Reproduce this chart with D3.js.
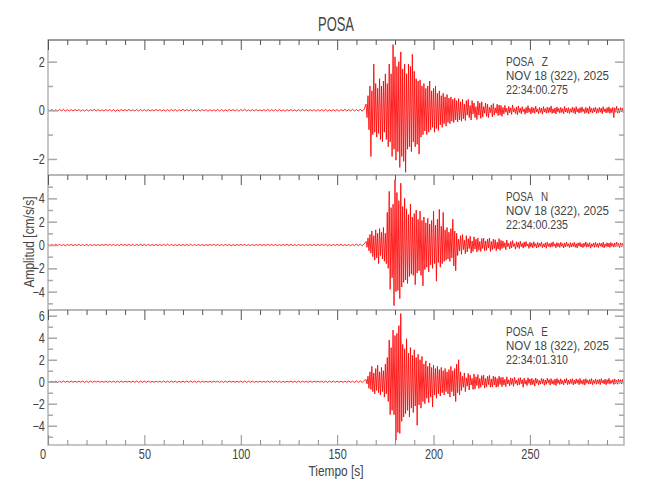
<!DOCTYPE html>
<html>
<head>
<meta charset="utf-8">
<script src="https://cdn.jsdelivr.net/npm/d3@7"></script>
<style>
  body { margin: 0; background: #fff; }
  svg text { font-family: "Liberation Sans", Arial, sans-serif; fill: #444; }
</style>
</head>
<body>
<div id="chart"></div>
<script>
const station = 'POSA'
const components = ['Z', 'N', 'E']
const dateLabel = 'NOV 18 (322), 2025'
const startTimes = ['22:34:00.275', '22:34:00.235', '22:34:01.310']

const timeDomain = [0, 298.8]
const xMajorTicks = [0, 50, 100, 150, 200, 250]
const xMinorTicks = [10, 20, 30, 40, 60, 70, 80, 90, 110, 120, 130, 140, 160, 170, 180, 190,
  210, 220, 230, 240, 260, 270, 280, 290]

const yDomains = [[-2.66, 2.89], [-5.57, 6.0], [-5.75, 6.52]]
const yMajorTicks = [[-2, 0, 2], [-4, -2, 0, 2, 4], [-4, -2, 0, 2, 4, 6]]
const yMinorTicks = [[-1, 1], [-5, -3, -1, 1, 3, 5], [-5, -3, -1, 1, 3, 5]]

// ruido previo, una muestra por segundo desde t = 0
const quietStep = 1
// sismo: máximo / mínimo de cada segundo desde t = 165
const quakeStart = 165

const zQuiet = [
  0.03, -0.02, 0.03, -0.03, 0.02, -0.03, 0.03, -0.02, 0.04, -0.03,
  0.02, -0.03, 0.03, -0.03, 0.03, -0.02, 0.03, -0.04, 0.02, -0.03,
  0.03, -0.03, 0.02, -0.02, 0.04, -0.03, 0.03, -0.03, 0.02, -0.03,
  0.03, -0.02, 0.03, -0.03, 0.03, -0.04, 0.02, -0.03, 0.03, -0.02,
  0.03, -0.03, 0.04, -0.03, 0.02, -0.03, 0.03, -0.03, 0.03, -0.02,
  0.03, -0.03, 0.03, -0.03, 0.02, -0.03, 0.04, -0.02, 0.03, -0.03,
  0.02, -0.03, 0.03, -0.03, 0.03, -0.02, 0.03, -0.04, 0.03, -0.03,
  0.04, -0.03, 0.03, -0.02, 0.03, -0.03, 0.02, -0.03, 0.03, -0.03,
  0.03, -0.02, 0.03, -0.04, 0.03, -0.03, 0.02, -0.03, 0.04, -0.03,
  0.03, -0.03, 0.02, -0.03, 0.03, -0.02, 0.03, -0.03, 0.03, -0.04,
  0.03, -0.02, 0.04, -0.03, 0.02, -0.03, 0.03, -0.03, 0.03, -0.02,
  0.02, -0.03, 0.03, -0.03, 0.04, -0.03, 0.03, -0.02, 0.03, -0.03,
  0.03, -0.03, 0.02, -0.04, 0.03, -0.03, 0.03, -0.03, 0.02, -0.03,
  0.03, -0.03, 0.04, -0.02, 0.03, -0.03, 0.03, -0.03, 0.03, -0.04,
  0.03, -0.03, 0.03, -0.03, 0.04, -0.03, 0.02, -0.03, 0.03, -0.03,
  0.03, -0.04, 0.03, -0.03, 0.04, -0.03, 0.03, -0.03, 0.04, -0.03,
  0.03, -0.03, 0.05, -0.04, 0.05
]
const zHi = [
  0.25, 0.6, 1.0, 0.8, 1.9, 1.1, 0.9, 1.3, 1.0, 1.2,
  1.5, 1.1, 1.9, 1.5, 2.7, 2.2, 1.8, 2.0, 2.4, 1.7,
  1.9, 1.5, 1.9, 1.8, 2.3, 1.6, 1.3, 1.2, 1.25, 1.0,
  1.1, 0.9, 1.0, 1.2, 0.8, 0.9, 1.0, 0.7, 0.8, 0.6,
  0.7, 0.55, 0.65, 0.5, 0.55, 0.45, 0.5, 0.4, 0.48, 0.35,
  0.45, 0.25, 0.4, 0.45, 0.2, 0.4, 0.3, 0.15, 0.38, 0.3,
  0.35, 0.15, 0.3, 0.25, 0.12, 0.22, 0.28, 0.1, 0.25, 0.22,
  0.2,
  0.12, 0.2, 0.08, 0.16, 0.1, 0.22, 0.07, 0.14, 0.18, 0.09,
  0.15, 0.06, 0.12, 0.19, 0.08, 0.13, 0.1, 0.17, 0.06, 0.12,
  0.09, 0.15, 0.07, 0.13, 0.11, 0.18, 0.06, 0.1, 0.14, 0.08,
  0.12, 0.07, 0.16, 0.09, 0.11, 0.06, 0.13, 0.1, 0.15, 0.07,
  0.11, 0.14, 0.06, 0.12, 0.09, 0.16, 0.08, 0.1, 0.13, 0.07,
  0.12, 0.09, 0.15, 0.06, 0.11, 0.14, 0.08, 0.12, 0.1, 0.16,
  0.07, 0.11, 0.09
]
const zLo = [
  -0.3, -0.8, -1.9, -1.0, -0.9, -1.1, -0.95, -1.2, -1.3, -0.9,
  -1.2, -1.5, -1.3, -1.9, -1.6, -2.05, -1.7, -2.35, -1.9, -2.1,
  -2.55, -1.6, -1.5, -1.7, -1.3, -1.5, -1.4, -1.8, -1.1, -1.0,
  -0.85, -1.0, -0.9, -0.8, -0.7, -0.9, -0.75, -0.83, -0.6, -0.7,
  -0.55, -0.65, -0.5, -0.55, -0.45, -0.5, -0.4, -0.48, -0.4, -0.45,
  -0.35, -0.42, -0.2, -0.3, -0.4, -0.15, -0.3, -0.38, -0.2, -0.33,
  -0.28, -0.12, -0.25, -0.3, -0.1, -0.27, -0.2, -0.12, -0.22, -0.2,
  -0.25,
  -0.15, -0.08, -0.2, -0.1, -0.17, -0.07, -0.13, -0.19, -0.09, -0.14,
  -0.06, -0.16, -0.11, -0.08, -0.15, -0.1, -0.12, -0.07, -0.14, -0.09,
  -0.16, -0.07, -0.12, -0.1, -0.08, -0.13, -0.11, -0.15, -0.06, -0.12,
  -0.09, -0.14, -0.07, -0.11, -0.13, -0.08, -0.1, -0.15, -0.07, -0.12,
  -0.09, -0.06, -0.13, -0.1, -0.14, -0.08, -0.11, -0.07, -0.12, -0.1,
  -0.08, -0.14, -0.06, -0.11, -0.09, -0.13, -0.1, -0.3, -0.08, -0.12,
  -0.1, -0.07, -0.11
]

const nQuiet = [
  0.05, -0.05, 0.04, -0.05, 0.06, -0.04, 0.05, -0.05, 0.04, -0.06,
  0.05, -0.04, 0.05, -0.05, 0.04, -0.05, 0.06, -0.05, 0.05, -0.04,
  0.05, -0.05, 0.04, -0.06, 0.05, -0.05, 0.04, -0.05, 0.05, -0.04,
  0.06, -0.05, 0.05, -0.04, 0.05, -0.05, 0.04, -0.05, 0.06, -0.04,
  0.05, -0.05, 0.05, -0.05, 0.07, -0.08, 0.09, -0.08, 0.1, -0.09,
  0.1, -0.09, 0.08, -0.07, 0.06, -0.06, 0.05, -0.05, 0.04, -0.05,
  0.05, -0.04, 0.06, -0.05, 0.05, -0.05, 0.04, -0.05, 0.05, -0.06,
  0.05, -0.04, 0.05, -0.05, 0.06, -0.05, 0.04, -0.04, 0.05, -0.05,
  0.05, -0.06, 0.04, -0.05, 0.05, -0.04, 0.06, -0.05, 0.05, -0.05,
  0.04, -0.05, 0.05, -0.04, 0.05, -0.06, 0.04, -0.05, 0.05, -0.05,
  0.06, -0.04, 0.05, -0.05, 0.04, -0.05, 0.05, -0.06, 0.05, -0.04,
  0.05, -0.05, 0.04, -0.05, 0.06, -0.04, 0.05, -0.05, 0.05, -0.06,
  0.04, -0.05, 0.05, -0.04, 0.05, -0.05, 0.06, -0.05, 0.04, -0.05,
  0.05, -0.06, 0.05, -0.05, 0.04, -0.04, 0.05, -0.05, 0.05, -0.05,
  0.06, -0.05, 0.05, -0.04, 0.05, -0.06, 0.04, -0.05, 0.05, -0.05,
  0.05, -0.04, 0.06, -0.05, 0.04, -0.05, 0.05, -0.06, 0.05, -0.05,
  0.07, -0.06, 0.08, -0.07, 0.1
]
const nHi = [
  0.3, 0.6, 0.9, 1.2, 0.8, 1.3, 1.0, 1.4, 1.1, 1.5,
  1.0, 2.8, 4.6, 3.2, 3.5, 5.6, 4.5, 3.8, 5.3, 3.3,
  4.0, 3.1, 2.6, 3.5, 2.4, 2.7, 3.0, 2.2, 2.9, 2.1,
  2.4, 1.9, 2.3, 1.8, 2.1, 2.9, 1.7, 2.2, 3.05, 1.6,
  2.8, 1.3, 1.5, 1.1, 1.4, 2.2, 1.2, 1.0, 0.5, 0.8,
  0.9, 0.4, 0.8, 0.55, 0.75, 0.35, 0.7, 0.5, 0.6, 0.3,
  0.55, 0.6, 0.35, 0.5, 0.6, 0.3, 0.5, 0.45, 0.25, 0.55,
  0.4,
  0.35, 0.2, 0.42, 0.15, 0.3, 0.38, 0.12, 0.28, 0.22, 0.34,
  0.14, 0.26, 0.3, 0.1, 0.24, 0.18, 0.28, 0.12, 0.22, 0.16,
  0.26, 0.1, 0.2, 0.24, 0.13, 0.19, 0.27, 0.11, 0.21, 0.16,
  0.23, 0.12, 0.18, 0.25, 0.1, 0.2, 0.15, 0.24, 0.12, 0.19,
  0.22, 0.11, 0.17, 0.26, 0.13, 0.2, 0.1, 0.18, 0.23, 0.12,
  0.19, 0.15, 0.24, 0.1, 0.2, 0.16, 0.22, 0.12, 0.18, 0.25,
  0.13, 0.19, 0.15
]
const nLo = [
  -0.2, -0.5, -0.7, -1.0, -1.3, -1.1, -1.6, -0.9, -1.2, -1.4,
  -1.6, -2.0, -3.8, -2.8, -5.2, -4.0, -3.9, -4.6, -3.6, -3.2,
  -3.0, -3.3, -2.7, -2.5, -2.6, -3.4, -2.4, -2.2, -2.6, -3.5,
  -2.1, -1.9, -2.3, -1.7, -2.0, -1.6, -3.1, -1.5, -1.9, -1.6,
  -1.4, -1.3, -1.2, -1.4, -1.1, -1.8, -2.2, -0.9, -0.5, -0.8,
  -0.4, -0.75, -0.6, -0.3, -0.7, -0.55, -0.35, -0.6, -0.45, -0.55,
  -0.3, -0.5, -0.45, -0.25, -0.55, -0.4, -0.3, -0.5, -0.35, -0.45,
  -0.3,
  -0.22, -0.4, -0.15, -0.33, -0.25, -0.12, -0.36, -0.2, -0.3, -0.14,
  -0.27, -0.18, -0.1, -0.29, -0.16, -0.24, -0.12, -0.26, -0.19, -0.11,
  -0.23, -0.17, -0.28, -0.12, -0.2, -0.15, -0.1, -0.24, -0.14, -0.21,
  -0.12, -0.26, -0.16, -0.11, -0.22, -0.18, -0.13, -0.2, -0.25, -0.1,
  -0.17, -0.23, -0.12, -0.19, -0.15, -0.27, -0.11, -0.2, -0.14, -0.22,
  -0.1, -0.18, -0.24, -0.13, -0.16, -0.21, -0.11, -0.19, -0.15, -0.12,
  -0.22, -0.14, -0.18
]

const eQuiet = [
  0.05, -0.05, 0.04, -0.05, 0.05, -0.06, 0.04, -0.05, 0.05, -0.04,
  0.05, -0.05, 0.06, -0.05, 0.04, -0.05, 0.05, -0.04, 0.05, -0.06,
  0.04, -0.05, 0.05, -0.05, 0.05, -0.04, 0.06, -0.05, 0.04, -0.05,
  0.05, -0.06, 0.05, -0.04, 0.05, -0.05, 0.04, -0.05, 0.06, -0.05,
  0.05, -0.04, 0.05, -0.05, 0.04, -0.05, 0.06, -0.06, 0.05, -0.04,
  0.05, -0.05, 0.05, -0.05, 0.04, -0.06, 0.05, -0.04, 0.05, -0.05,
  0.06, -0.05, 0.04, -0.05, 0.05, -0.04, 0.05, -0.06, 0.04, -0.05,
  0.05, -0.05, 0.05, -0.04, 0.06, -0.05, 0.04, -0.05, 0.05, -0.06,
  0.05, -0.04, 0.04, -0.05, 0.05, -0.05, 0.06, -0.04, 0.05, -0.05,
  0.04, -0.06, 0.05, -0.05, 0.05, -0.04, 0.05, -0.05, 0.04, -0.05,
  0.06, -0.05, 0.05, -0.05, 0.04, -0.04, 0.05, -0.06, 0.05, -0.05,
  0.05, -0.04, 0.04, -0.05, 0.06, -0.05, 0.05, -0.04, 0.05, -0.05,
  0.04, -0.06, 0.05, -0.05, 0.05, -0.04, 0.06, -0.05, 0.04, -0.05,
  0.05, -0.05, 0.05, -0.04, 0.04, -0.05, 0.06, -0.06, 0.05, -0.04,
  0.05, -0.05, 0.04, -0.05, 0.05, -0.06, 0.05, -0.04, 0.06, -0.05,
  0.05, -0.05, 0.05, -0.06, 0.04, -0.05, 0.06, -0.05, 0.05, -0.07,
  0.08, -0.07, 0.09, -0.08, 0.11
]
const eHi = [
  0.2, 0.5, 0.9, 1.4, 0.8, 1.2, 1.5, 0.9, 1.3, 1.0,
  1.6, 2.2, 3.8, 3.1, 4.7, 4.2, 4.4, 5.1, 6.2, 3.4,
  3.0, 3.9, 2.6, 3.1, 2.4, 2.9, 2.2, 2.5, 2.0, 2.3,
  1.6, 1.9, 1.4, 1.7, 1.3, 1.5, 1.2, 1.4, 1.1, 1.3,
  1.0, 1.2, 0.9, 1.1, 1.4, 1.0, 1.2, 1.6, 2.0, 0.9,
  0.5, 0.8, 0.35, 0.75, 0.6, 0.3, 0.7, 0.45, 0.65, 0.3,
  0.55, 0.6, 0.3, 0.5, 0.58, 0.25, 0.5, 0.45, 0.3, 0.5,
  0.4,
  0.4, 0.22, 0.45, 0.18, 0.35, 0.28, 0.42, 0.15, 0.3, 0.38,
  0.2, 0.33, 0.14, 0.36, 0.25, 0.3, 0.18, 0.34, 0.22, 0.12,
  0.3, 0.26, 0.16, 0.32, 0.2, 0.28, 0.13, 0.25, 0.3, 0.17,
  0.27, 0.12, 0.24, 0.3, 0.15, 0.22, 0.28, 0.14, 0.26, 0.19,
  0.3, 0.13, 0.23, 0.27, 0.16, 0.21, 0.29, 0.12, 0.25, 0.18,
  0.22, 0.28, 0.14, 0.24, 0.19, 0.3, 0.12, 0.2, 0.26, 0.15,
  0.23, 0.18, 0.21
]
const eLo = [
  -0.2, -0.6, -0.7, -0.9, -1.1, -0.8, -1.0, -1.2, -0.9, -1.4,
  -1.1, -1.8, -3.0, -2.6, -3.0, -5.3, -4.6, -4.7, -3.6, -3.2,
  -2.9, -2.6, -3.2, -2.4, -2.8, -2.2, -3.95, -2.1, -2.4, -1.8,
  -2.0, -1.5, -1.9, -1.4, -2.3, -1.2, -1.5, -1.1, -1.3, -1.0,
  -1.2, -0.9, -1.1, -1.4, -0.9, -1.3, -1.8, -1.0, -1.2, -0.8,
  -0.5, -0.9, -0.4, -0.75, -0.3, -0.7, -0.65, -0.35, -0.6, -0.5,
  -0.3, -0.58, -0.45, -0.25, -0.5, -0.48, -0.3, -0.5, -0.45, -0.25,
  -0.45,
  -0.3, -0.45, -0.2, -0.38, -0.25, -0.42, -0.16, -0.33, -0.28, -0.18,
  -0.5, -0.22, -0.35, -0.15, -0.3, -0.26, -0.4, -0.14, -0.28, -0.22,
  -0.17, -0.32, -0.24, -0.13, -0.3, -0.2, -0.27, -0.35, -0.15, -0.25,
  -0.19, -0.3, -0.12, -0.26, -0.22, -0.16, -0.29, -0.2, -0.14, -0.27,
  -0.18, -0.24, -0.31, -0.13, -0.22, -0.2, -0.27, -0.15, -0.23, -0.18,
  -0.26, -0.12, -0.21, -0.28, -0.16, -0.22, -0.14, -0.25, -0.19, -0.23,
  -0.15, -0.2, -0.24
]

const traces = [
  { quiet: zQuiet, hi: zHi, lo: zLo },
  { quiet: nQuiet, hi: nHi, lo: nLo },
  { quiet: eQuiet, hi: eHi, lo: eLo }
]

const width = 650, height = 500
const plotLeft = 48, plotRight = 624
const plotTop = 40, panelHeight = 135
const narrow = 'scale(0.78,1)'

const svg = d3.select('#chart')
  .append('svg')
  .attr('width', width)
  .attr('height', height)

const x = d3.scaleLinear().domain(timeDomain).range([plotLeft, plotRight])

const toPoints = (tr) => {
  const pts = tr.quiet.map((v, i) => [i * quietStep, v])
  tr.hi.forEach((v, i) => {
    pts.push([quakeStart + i, v])
    pts.push([quakeStart + i + 0.5, tr.lo[i]])
  })
  return pts
}

const fmt = d3.format('d')

traces.forEach((tr, k) => {
  const top = plotTop + k * panelHeight
  const bottom = top + panelHeight
  const y = d3.scaleLinear().domain(yDomains[k]).range([bottom, top])
  const g = svg.append('g')

  g.append('clipPath').attr('id', 'clip' + k)
    .append('rect')
    .attr('x', plotLeft).attr('y', top)
    .attr('width', plotRight - plotLeft).attr('height', panelHeight)

  // traza
  g.append('path')
    .datum(toPoints(tr))
    .attr('clip-path', `url(#clip${k})`)
    .attr('fill', 'none')
    .attr('stroke', '#ff0000')
    .attr('stroke-width', 0.85)
    .attr('d', d3.line().x(d => x(d[0])).y(d => y(d[1])))

  // marco
  g.append('rect')
    .attr('x', plotLeft).attr('y', top)
    .attr('width', plotRight - plotLeft).attr('height', panelHeight)
    .attr('fill', 'none')
    .attr('stroke', '#b4b4b4')
    .attr('stroke-width', 1.5)

  if (k === 0) {
    g.append('line')
      .attr('x1', plotLeft).attr('x2', plotRight)
      .attr('y1', top).attr('y2', top)
      .attr('stroke', '#8c8c8c').attr('stroke-width', 1.5)
  }

  // ejes Y
  const yAxes = [
    { ax: d3.axisLeft(y).tickValues(yMajorTicks[k]).tickSize(-9).tickFormat(fmt), pos: plotLeft },
    { ax: d3.axisLeft(y).tickValues(yMinorTicks[k]).tickSize(-5).tickFormat(''), pos: plotLeft },
    { ax: d3.axisRight(y).tickValues(yMajorTicks[k]).tickSize(-9).tickFormat(''), pos: plotRight },
    { ax: d3.axisRight(y).tickValues(yMinorTicks[k]).tickSize(-5).tickFormat(''), pos: plotRight }
  ]
  yAxes.forEach(a => {
    const ag = g.append('g')
      .attr('transform', `translate(${a.pos},0)`)
      .call(a.ax.tickSizeOuter(0).tickPadding(4))
    ag.select('.domain').remove()
    ag.selectAll('line').attr('stroke', '#a8a8a8').attr('stroke-width', 1.5)
    ag.selectAll('text').attr('font-size', 14).attr('fill', '#444').attr('transform', narrow)
  })

  // ticks X arriba
  ;[[xMajorTicks, -10], [xMinorTicks, -5]].forEach(([vals, size]) => {
    const ag = g.append('g')
      .attr('transform', `translate(0,${top})`)
      .call(d3.axisTop(x).tickValues(vals).tickSize(size).tickSizeOuter(0).tickFormat(''))
    ag.select('.domain').remove()
    ag.selectAll('line').attr('stroke', '#555').attr('stroke-width', 1)
  })

  // estación, fecha y hora de inicio
  const lines = [`${station}   ${components[k]}`, dateLabel, startTimes[k]]
  const lens = [42, 103, 62]
  lines.forEach((s, i) => {
    g.append('text')
      .attr('x', 506)
      .attr('y', top + 26 + i * 14)
      .attr('font-size', 12.5)
      .attr('textLength', lens[i])
      .attr('lengthAdjust', 'spacingAndGlyphs')
      .style('white-space', 'pre')
      .text(s)
  })
})

// eje X inferior
const bottomY = plotTop + 3 * panelHeight
;[[xMajorTicks, -10, fmt], [xMinorTicks, -5, '']].forEach(([vals, size, f]) => {
  const ag = svg.append('g')
    .attr('transform', `translate(0,${bottomY})`)
    .call(d3.axisBottom(x).tickValues(vals).tickSize(size).tickSizeOuter(0).tickPadding(4).tickFormat(f))
  ag.select('.domain').remove()
  ag.selectAll('line').attr('stroke', '#8c8c8c').attr('stroke-width', 1)
  ag.selectAll('text').attr('font-size', 14).attr('fill', '#444').attr('transform', narrow)
  // el 0 queda a la izquierda de la esquina
  ag.selectAll('.tick text').filter(d => d === 0)
    .attr('text-anchor', 'end').attr('x', -3)
})

// títulos
svg.append('text')
  .attr('x', (plotLeft + plotRight) / 2)
  .attr('y', 31)
  .attr('text-anchor', 'middle')
  .attr('font-size', 21)
  .attr('textLength', 36)
  .attr('lengthAdjust', 'spacingAndGlyphs')
  .text(station)

svg.append('text')
  .attr('x', (plotLeft + plotRight) / 2)
  .attr('y', 476)
  .attr('text-anchor', 'middle')
  .attr('font-size', 14)
  .attr('textLength', 55)
  .attr('lengthAdjust', 'spacingAndGlyphs')
  .text('Tiempo [s]')

svg.append('text')
  .attr('transform', `translate(34,242) rotate(-90)`)
  .attr('text-anchor', 'middle')
  .attr('font-size', 14)
  .attr('textLength', 91)
  .attr('lengthAdjust', 'spacingAndGlyphs')
  .text('Amplitud [cm/s/s]')
</script>
</body>
</html>
